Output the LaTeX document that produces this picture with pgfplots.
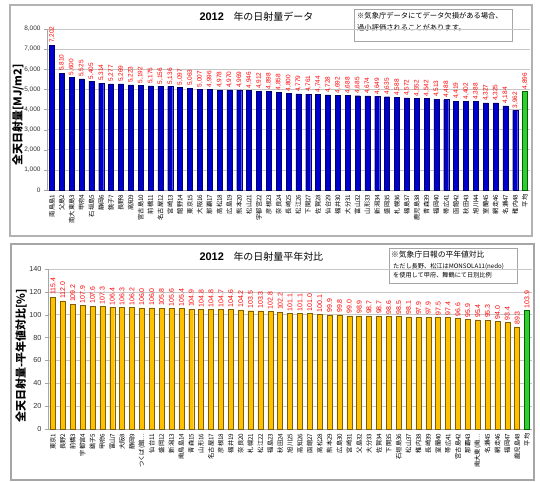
\documentclass[border=0pt]{standalone}
\usepackage{pgfplots}
\pgfplotsset{compat=1.18}
\usepackage{fontspec}
\setmainfont{Liberation Sans}
\newfontfamily\jp{Noto Sans CJK JP}
\definecolor{barblue}{RGB}{0,0,204}
\definecolor{barblueedge}{RGB}{0,0,110}
\definecolor{bargold}{RGB}{255,192,0}
\definecolor{bargoldedge}{RGB}{125,95,10}
\definecolor{bargreen}{RGB}{51,204,51}
\definecolor{bargreenedge}{RGB}{0,100,0}
\pgfplotsset{
  /pgf/number format/assume math mode=true,
  mybase/.style={
    scale only axis, anchor=south west,
    xmin=-0.5, xmax=48.5,
    ybar, bar width=5bp, bar shift=0bp,
    clip=false,
    axis x line*=bottom, axis y line*=left,
    axis line style={gray!70},
    ymajorgrids, grid style={gray!45, line width=0.5bp},
    tick align=outside, major tick length=3bp,
    ytick style={gray!70}, xtick style={draw=none},
    xtick={0,...,48},
    xticklabel style={rotate=90, anchor=east, font=\jp\fontsize{6.3}{7}\selectfont, inner sep=1.5bp},
    yticklabel style={font=\fontsize{6.5}{7}\selectfont, text=black!80},
    every node near coord/.append style={rotate=90, anchor=west, text=red, font=\fontsize{6.5}{7}\selectfont, inner sep=2bp},
  }
}
\begin{document}
\begin{tikzpicture}[x=1bp,y=1bp]
\path[use as bounding box] (0,0) rectangle (540,482);
% panels
\draw[gray!60, line width=1.2bp] (10,477) rectangle (532,246);
\draw[gray!70, line width=1.4bp] (11,238) rectangle (534,2);
% ---------- top chart ----------
\node[anchor=west] at (196,465) {\fontsize{11}{12}\selectfont\bfseries 2012};
\node[anchor=west] at (230,465) {\jp\fontsize{10}{11}\selectfont 年の日射量データ};
\draw[gray!70, line width=0.8bp, fill=white] (354,473) rectangle (512,441);
\node[anchor=north west, align=left, inner sep=0pt, font=\jp\fontsize{7.3}{12}\selectfont] at (357,470)
  {※気象庁データにてデータ欠損がある場合、\\過小評価されることがあります。};
\node[rotate=90, font=\jp\bfseries\fontsize{11}{12}\selectfont] at (18,367) {全天日射量[MJ/m2]};
\begin{axis}[mybase,
  at={(47bp,292bp)}, width=483bp, height=161bp,
  ymin=0, ymax=8000, ytick={0,1000,...,8000},
  scaled y ticks=false,
  yticklabel style={/pgf/number format/.cd, fixed, 1000 sep={,}},
  nodes near coords={\pgfmathprintnumber[fixed,precision=0,1000 sep={,}]{\pgfplotspointmeta}},
  xticklabels={南鳥島1,父島2,南大東島3,甲府4,石垣島5,静岡6,銚子7,長野8,高知9,宮古島10,前橋11,名古屋12,宮崎13,館野14,東京15,大阪16,那覇17,高松18,広島19,熊本20,松山21,宇都宮22,彦根23,奈良24,長崎25,松江26,下関27,佐賀28,仙台29,福井30,大分31,富山32,山形33,新潟34,盛岡35,札幌36,福島37,鹿児島38,青森39,福岡40,帯広41,函館42,秋田43,旭川44,室蘭45,網走46,名瀬47,稚内48,平均},
]
\addplot[fill=barblue, draw=barblueedge, line width=0.4bp] coordinates {
(0,7202) (1,5810) (2,5600) (3,5525) (4,5405) (5,5314) (6,5277) (7,5269) (8,5223) (9,5192)
(10,5175) (11,5156) (12,5136) (13,5097) (14,5063) (15,5007) (16,4996) (17,4978) (18,4970) (19,4969)
(20,4946) (21,4912) (22,4898) (23,4858) (24,4800) (25,4779) (26,4761) (27,4744) (28,4728) (29,4692)
(30,4688) (31,4685) (32,4674) (33,4649) (34,4635) (35,4588) (36,4572) (37,4552) (38,4542) (39,4513)
(40,4488) (41,4419) (42,4402) (43,4388) (44,4327) (45,4325) (46,4184) (47,3962)};
\addplot[fill=bargreen, draw=bargreenedge, line width=0.4bp] coordinates {(48,4896)};
\end{axis}
% ---------- bottom chart ----------
\node[anchor=west] at (196,225) {\fontsize{11}{12}\selectfont\bfseries 2012};
\node[anchor=west] at (230,225) {\jp\fontsize{10}{11}\selectfont 年の日射量平年対比};
\draw[gray!70, line width=0.8bp, fill=white] (389,234) rectangle (517,199);
\node[anchor=west, inner sep=0pt, font=\jp\fontsize{7.8}{9}\selectfont] at (391,227) {※気象庁日報の平年値対比};
\node[anchor=west, inner sep=0pt, font=\jp\fontsize{6.2}{7}\selectfont] at (393,215) {ただし長野、松江はMONSOLA11(nedo)};
\node[anchor=west, inner sep=0pt, font=\jp\fontsize{6.2}{7}\selectfont] at (393,207) {を使用して甲府、舞鶴にて日別比例};
\node[rotate=90, font=\jp\bfseries\fontsize{11}{12}\selectfont] at (21,126) {全天日射量-平年値対比[\%]};
\begin{axis}[mybase,
  at={(48bp,53bp)}, width=484bp, height=160bp,
  ymin=0, ymax=140, ytick={0,20,...,140},
  yticklabel style={font=\fontsize{7.3}{8}\selectfont},
  every node near coord/.append style={font=\fontsize{7}{8}\selectfont},
  nodes near coords={\pgfmathprintnumber[fixed,fixed zerofill,precision=1]{\pgfplotspointmeta}},
  xticklabels={東京1,長野2,前橋3,宇都宮4,銚子5,甲府6,富山7,大阪8,静岡9,つくば(館…,仙台11,盛岡12,新潟13,南鳥島14,青森15,山形16,名古屋17,彦根18,福井19,奈良20,札幌21,松江22,福島23,秋田24,旭川25,高知26,函館27,高松28,熊本29,広島30,宮崎31,父島32,大分33,佐賀34,下関35,石垣島36,松山37,稚内38,長崎39,室蘭40,帯広41,宮古島42,那覇43,南大東(南…,名瀬45,網走46,福岡47,鹿児島48,平均},
]
\addplot[fill=bargold, draw=bargoldedge, line width=0.4bp] coordinates {
(0,115.4) (1,112.0) (2,109.2) (3,107.9) (4,107.6) (5,107.3) (6,106.4) (7,106.3) (8,106.2) (9,106.0)
(10,106.0) (11,105.8) (12,105.6) (13,105.4) (14,104.9) (15,104.8) (16,104.8) (17,104.7) (18,104.6) (19,104.2)
(20,103.5) (21,103.3) (22,102.8) (23,102.2) (24,101.1) (25,101.1) (26,101.0) (27,100.1) (28,99.9) (29,99.8)
(30,99.0) (31,98.9) (32,98.7) (33,98.7) (34,98.6) (35,98.5) (36,98.1) (37,97.9) (38,97.9) (39,97.5)
(40,97.4) (41,96.6) (42,95.9) (43,95.4) (44,95.3) (45,94.0) (46,93.4) (47,89.3)};
\addplot[fill=bargreen, draw=bargreenedge, line width=0.4bp] coordinates {(48,103.9)};
\end{axis}
\end{tikzpicture}
\end{document}
